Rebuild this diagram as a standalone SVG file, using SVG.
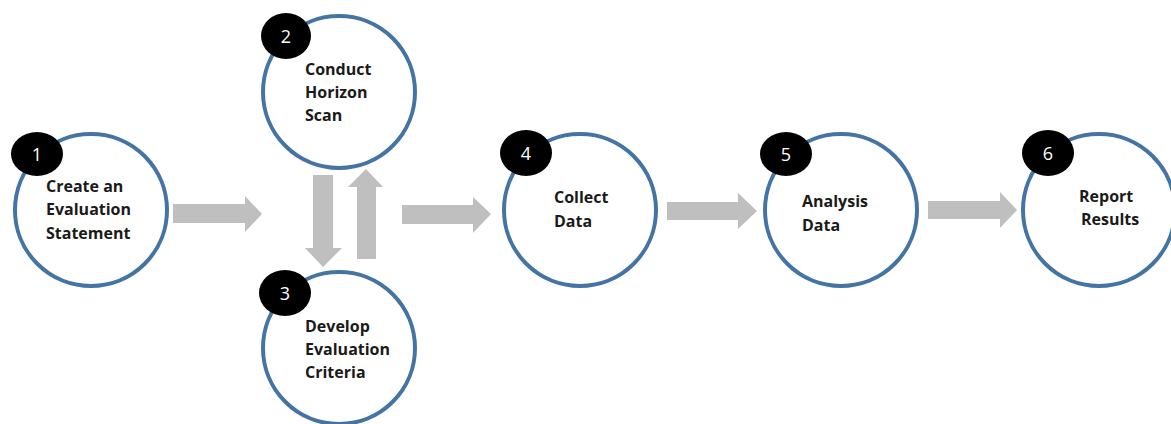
<svg xmlns="http://www.w3.org/2000/svg" width="1171" height="424" viewBox="0 0 1171 424">
<style>
.ring{fill:#ffffff;stroke:#4474a4;stroke-width:4}
.badge{fill:#000000}
.num{fill:#ffffff;font-family:"Open Sans","Liberation Sans",sans-serif;font-size:18px;text-anchor:middle}
.lbl{fill:#1a1a1a;font-family:"Open Sans","Liberation Sans",sans-serif;font-size:16px;font-weight:700}
.arr{fill:#bfbfbf}
</style>
<rect width="1171" height="424" fill="#ffffff"/>
<g id="connectors">
<polygon class="arr" points="173,204 245,204 245,196 262,214 245,232 245,223 173,223"/>
<polygon class="arr" points="313,175 333,175 333,248 342,248 323,267 305,248 313,248"/>
<polygon class="arr" points="357,259 376,259 376,187 383,187 366,169 348,187 357,187"/>
<polygon class="arr" points="402,205 473,205 473,197 491,214 473,233 473,224 402,224"/>
<polygon class="arr" points="667,202 738,202 738,193 757,211 738,229 738,220 667,220"/>
<polygon class="arr" points="928,201 1000,201 1000,192 1017,210 1000,228 1000,219 928,219"/>
</g>
<g id="node1">
<circle class="ring" cx="91" cy="210" r="76"/>
<ellipse class="badge" cx="37" cy="154" rx="26" ry="22"/>
<text class="num" x="37" y="161">1</text>
<text class="lbl" x="46" y="192">Create an</text>
<text class="lbl" x="46" y="215">Evaluation</text>
<text class="lbl" x="46" y="239">Statement</text>
</g>
<g id="node2">
<circle class="ring" cx="339" cy="92" r="76"/>
<ellipse class="badge" cx="286" cy="36" rx="25" ry="23"/>
<text class="num" x="286" y="43">2</text>
<text class="lbl" x="305" y="75">Conduct</text>
<text class="lbl" x="305" y="98">Horizon</text>
<text class="lbl" x="305" y="121">Scan</text>
</g>
<g id="node3">
<circle class="ring" cx="339" cy="348" r="76"/>
<ellipse class="badge" cx="285" cy="293" rx="26" ry="23"/>
<text class="num" x="285" y="300">3</text>
<text class="lbl" x="305" y="332">Develop</text>
<text class="lbl" x="305" y="355">Evaluation</text>
<text class="lbl" x="305" y="378">Criteria</text>
</g>
<g id="node4">
<circle class="ring" cx="580" cy="210" r="76"/>
<ellipse class="badge" cx="526" cy="153" rx="26" ry="23"/>
<text class="num" x="526" y="160">4</text>
<text class="lbl" x="554" y="203">Collect</text>
<text class="lbl" x="554" y="227">Data</text>
</g>
<g id="node5">
<circle class="ring" cx="841" cy="210" r="76"/>
<ellipse class="badge" cx="786" cy="154" rx="26" ry="22"/>
<text class="num" x="786" y="161">5</text>
<text class="lbl" x="802" y="207">Analysis</text>
<text class="lbl" x="802" y="231">Data</text>
</g>
<g id="node6">
<circle class="ring" cx="1099" cy="210" r="76"/>
<ellipse class="badge" cx="1048" cy="153" rx="26" ry="23"/>
<text class="num" x="1048" y="160">6</text>
<text class="lbl" x="1079" y="202">Report</text>
<text class="lbl" x="1081" y="225">Results</text>
</g>
</svg>
